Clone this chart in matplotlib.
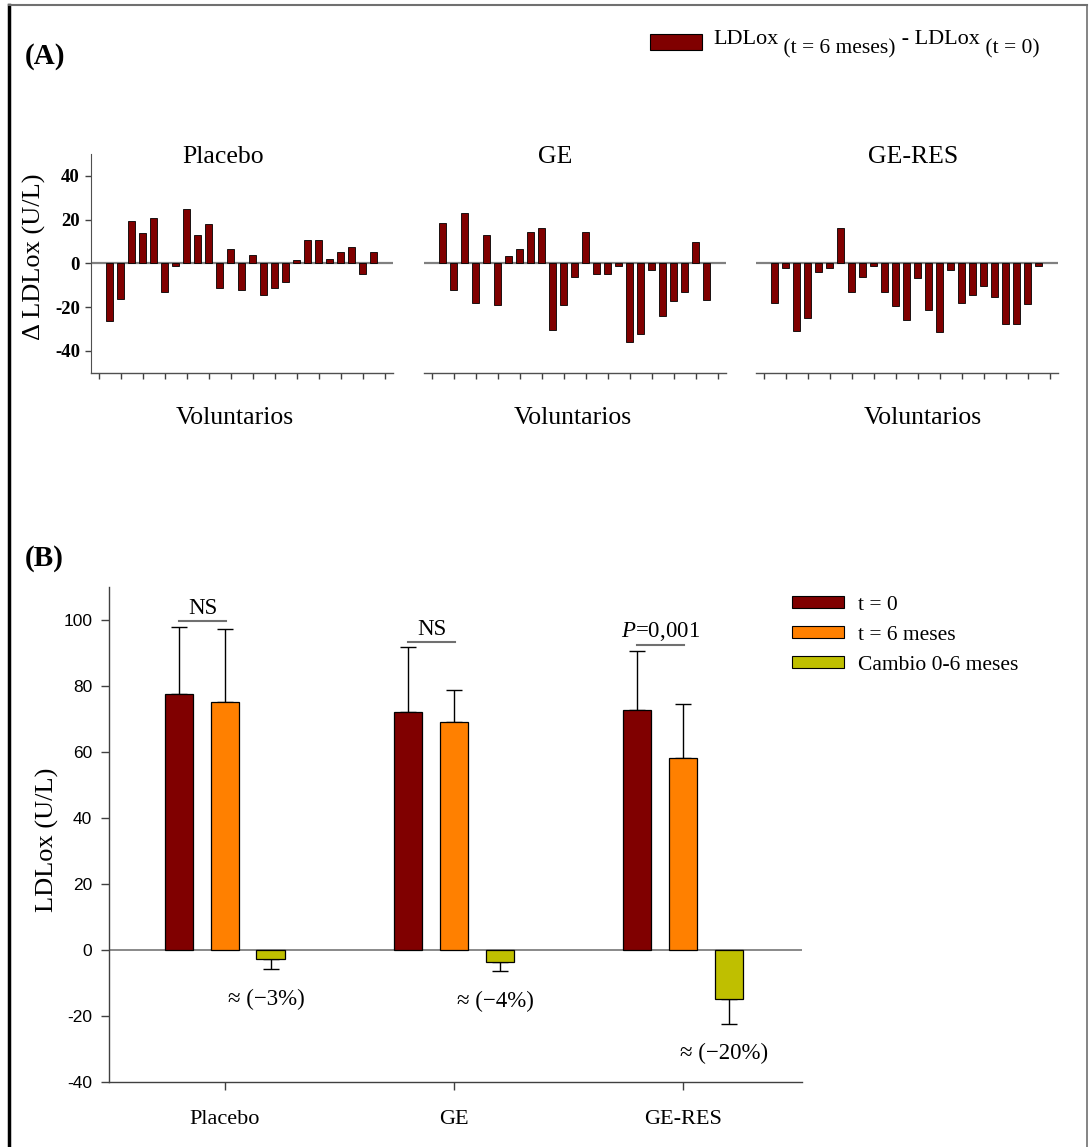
import matplotlib
matplotlib.use("Agg")
import matplotlib.pyplot as plt
import numpy as np
from matplotlib.patches import Rectangle, Patch
from matplotlib.lines import Line2D

SERIF = "Liberation Serif"
SANS = "Liberation Sans"
plt.rcParams["mathtext.fontset"] = "custom"
plt.rcParams["mathtext.rm"] = SERIF
plt.rcParams["mathtext.it"] = SERIF + ":italic"

# ---------------- data: panel A (change per volunteer) ----------------
panelA_titles = ["Placebo", "GE", "GE-RES"]
panelA_xlabel = "Voluntarios"
placebo_delta = [-26.2, -16.5, 19.2, 13.9, 20.9, -13.3, -1.2, 24.8, 13.0, 17.9,
                 -11.4, 6.4, -12.3, 3.9, -14.7, -11.4, -8.3, 1.4, 10.5, 10.5,
                 1.8, 5.0, 7.4, -5.0, 5.0]
ge_delta = [18.5, -12.3, 23.2, -18.2, 13.0, -19.2, 3.2, 6.5, 14.5, 16.1,
            -30.3, -19.2, -6.4, 14.5, -5.0, -4.7, -1.2, -35.8, -32.1, -3.0,
            -23.9, -17.0, -13.3, 9.7, -16.7]
geres_delta = [-18.2, -2.3, -31.1, -25.2, -4.1, -2.3, 16.2, -13.3, -6.4, -1.4,
               -13.3, -19.7, -25.9, -6.8, -21.2, -31.5, -3.0, -18.2, -14.7, -10.5,
               -15.2, -27.9, -27.9, -18.6, -1.4]
panelA_yticks = [-40, -20, 0, 20, 40]

# ---------------- data: panel B (group means) ----------------
groups = ["Placebo", "GE", "GE-RES"]
series_labels = ["t = 0", "t = 6 meses", "Cambio 0-6 meses"]
t0_mean = [77.7, 72.2, 72.7]
t0_sd = [20.3, 19.5, 18.0]
t6_mean = [75.3, 69.0, 58.2]
t6_sd = [21.9, 9.8, 16.3]
chg_mean = [-2.8, -3.5, -14.7]
chg_sd = [3.1, 3.0, 7.7]
sig_labels = ["NS", "NS", "$P$=0,001"]
pct_labels = ["\u2248 (\u22123%)", "\u2248 (\u22124%)", "\u2248 (\u221220%)"]
panelB_yticks = [-40, -20, 0, 20, 40, 60, 80, 100]

DARKRED = "#800000"
ORANGE = "#FF8000"
OLIVE = "#BFBF00"

W, H = 1092, 1147
fig = plt.figure(figsize=(W / 100, H / 100), dpi=100)


def fx(x):
    return x / W


def fy(y):
    return 1 - y / H


# ---------------- frame ----------------
fig.add_artist(Line2D([fx(8.5), fx(8.5)], [0, fy(5)], color="black", lw=2.5,
                      transform=fig.transFigure))
fig.add_artist(Line2D([fx(8.5), fx(1087)], [fy(5), fy(5)], color="#707070", lw=1.5,
                      transform=fig.transFigure))
fig.add_artist(Line2D([fx(1087), fx(1087)], [fy(5), 0], color="#707070", lw=1.2,
                      transform=fig.transFigure))

# ---------------- panel A ----------------
fig.text(fx(25), fy(57), "(A)", family=SERIF, weight="bold", size=21, va="center", ha="left")
lefts = [91, 424, 756]
title_xfrac = [0.437, 0.434, 0.52]
xlabel_xfrac = [0.477, 0.493, 0.553]
for i, vals in enumerate([placebo_delta, ge_delta, geres_delta]):
    ax = fig.add_axes([fx(lefts[i]), fy(372.7), 302 / W, 218.7 / H])
    x = np.arange(1, len(vals) + 1)
    ax.bar(x, vals, width=0.66, color=DARKRED, edgecolor="black", linewidth=0.6, zorder=3)
    ax.axhline(0, color="#808080", lw=1.6, zorder=2)
    ax.set_xlim(-0.7, 26.75)
    ax.set_ylim(-50, 50)
    ax.set_xticks(np.arange(0, 27, 2))
    ax.set_xticklabels([])
    ax.tick_params(axis="x", direction="out", length=4, width=1, color="#404040")
    for s in ["top", "right"]:
        ax.spines[s].set_visible(False)
    ax.spines["bottom"].set_color("#505050")
    ax.spines["bottom"].set_linewidth(1.0)
    if i == 0:
        ax.set_yticks(panelA_yticks)
        ax.set_yticklabels([str(v) for v in panelA_yticks], family=SERIF,
                           weight="bold", size=13.5)
        ax.tick_params(axis="y", direction="out", length=4, width=1, pad=4,
                       color="#404040")
        ax.spines["left"].set_color("#505050")
    else:
        ax.spines["left"].set_visible(False)
        ax.set_yticks([])
    ax.text(title_xfrac[i], 0.986, panelA_titles[i], transform=ax.transAxes,
            family=SERIF, size=18.5, ha="center", va="center", clip_on=False)
    ax.text(xlabel_xfrac[i], -0.207, panelA_xlabel, transform=ax.transAxes,
            family=SERIF, size=18.5, ha="center", va="center", clip_on=False)

fig.text(fx(34), fy(257), "\u0394 LDLox (U/L)", family=SERIF, size=19,
         rotation=90, ha="center", va="center")

# legend of panel A (key + text with subscripts)
fig.add_artist(Rectangle((fx(650), fy(50)), 52 / W, 16 / H, facecolor=DARKRED,
                         edgecolor="black", linewidth=0.8, transform=fig.transFigure))
renderer = fig.canvas.get_renderer()
xpos = 713
pieces = [("LDLox", 44, 16), (" (t = 6 meses)", 53, 15.5), (" - LDLox", 44, 16),
          (" (t = 0)", 53, 15.5)]
for s, yb, sz in pieces:
    t = fig.text(fx(xpos), fy(yb), s, family=SERIF, size=sz, ha="left", va="baseline")
    bb = t.get_window_extent(renderer)
    xpos += bb.width

# ---------------- panel B ----------------
fig.text(fx(25), fy(558), "(B)", family=SERIF, weight="bold", size=21, va="center", ha="left")
axB = fig.add_axes([fx(109), fy(1082), (802 - 109) / W, (1082 - 587) / H])
xg = np.arange(len(groups))
offs = [-0.2, 0.0, 0.2]
bw = 0.124
means = [t0_mean, t6_mean, chg_mean]
sds = [t0_sd, t6_sd, chg_sd]
colors = [DARKRED, ORANGE, OLIVE]
axB.axhline(0, color="#808080", lw=1.3, zorder=1)
for k in range(3):
    m = np.array(means[k])
    sd = np.array(sds[k])
    xs = xg + offs[k]
    axB.bar(xs, m, width=bw, color=colors[k], edgecolor="black", linewidth=0.9,
            zorder=3, label=series_labels[k])
    lower = np.where(m < 0, sd, 0)
    upper = np.where(m >= 0, sd, 0)
    axB.errorbar(xs, m, yerr=[lower, upper], fmt="none", ecolor="black",
                 elinewidth=1.0, capsize=5.5, capthick=1.0, zorder=2)

for i in range(len(groups)):
    ytop = t0_mean[i] + t0_sd[i] + 1.6
    x1, x2 = xg[i] + offs[0], xg[i] + offs[1] + 0.005
    axB.plot([x1, x2], [ytop, ytop], color="#707070", lw=1.5, zorder=4)
    axB.text((x1 + x2) / 2, ytop + 0.6, sig_labels[i], family=SERIF, size=16.5,
             ha="center", va="bottom")
    ybot = chg_mean[i] - chg_sd[i] - 9
    axB.text(xg[i] + 0.18, ybot, pct_labels[i], family=SERIF, size=16.5,
             ha="center", va="center")

axB.set_xlim(-0.506, 2.52)
axB.set_ylim(-40, 110)
axB.set_xticks(xg)
axB.set_xticklabels(groups, family=SERIF, size=16)
axB.set_yticks(panelB_yticks)
axB.set_yticklabels([str(v) for v in panelB_yticks], family=SANS, size=12.5)
axB.tick_params(axis="both", direction="out", length=6, width=1, color="#404040")
axB.tick_params(axis="y", pad=6)
axB.tick_params(axis="x", pad=14)
for s in ["top", "right"]:
    axB.spines[s].set_visible(False)
for s in ["left", "bottom"]:
    axB.spines[s].set_color("#404040")
    axB.spines[s].set_linewidth(1.0)
fig.text(fx(47), fy(840), "LDLox (U/L)", family=SERIF, size=19, rotation=90,
         ha="center", va="center")

handles = [Patch(facecolor=c, edgecolor="black", linewidth=0.8, label=l)
           for c, l in zip(colors, series_labels)]
axB.legend(handles=handles, loc="upper left", bbox_to_anchor=(fx(792), fy(596)),
           bbox_transform=fig.transFigure, frameon=False,
           prop={"family": SERIF, "size": 15.5}, handlelength=2.4, handleheight=0.5,
           labelspacing=0.5, handletextpad=0.65, borderpad=0, borderaxespad=0)

fig.savefig("out.png", dpi=100)
